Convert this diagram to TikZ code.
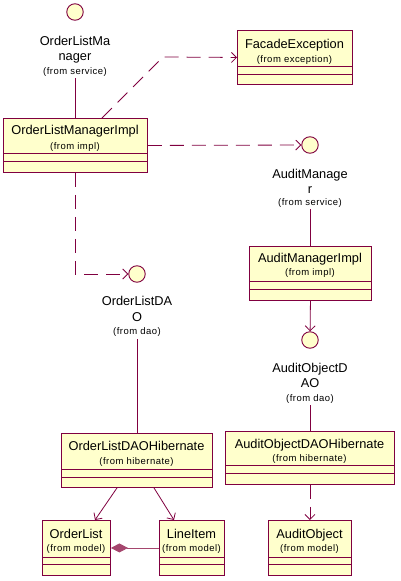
\documentclass[tikz,border=0pt]{standalone}
\usepackage{fontspec}
\setmainfont{Liberation Sans}
\newfontfamily\smallfam[LetterSpace=5]{Liberation Sans}
\usetikzlibrary{arrows.meta}
\definecolor{umlline}{RGB}{128,0,64}
\definecolor{umlfill}{RGB}{255,255,204}
\definecolor{diamondc}{RGB}{165,70,110}
\newcommand\umlcomp[2]{\draw[compline] ([yshift=-#2pt]#1.north west) -- ([yshift=-#2pt]#1.north east);}
\begin{document}
\begin{tikzpicture}[x=1pt,y=-1pt,
  cls/.style={draw=umlline, fill=umlfill, line width=0.9pt, inner sep=0pt, anchor=north west},
  iface/.style={circle, draw=umlline, fill=umlfill, line width=0.9pt, minimum size=16.5pt, inner sep=0pt},
  compline/.style={draw=umlline, line width=0.9pt},
  nm/.style={anchor=base, font=\fontsize{12.8}{15}\selectfont, inner sep=0pt},
  fr/.style={anchor=base, font=\smallfam\fontsize{9.5}{12}\selectfont, inner sep=0pt},
  conn/.style={draw=umlline, line width=0.8pt},
  dep/.style={conn, dash pattern=on 14pt off 8pt, -{Straight Barb[length=5pt,width=10pt]}},
  nav/.style={conn, -{Straight Barb[length=5pt,width=10pt]}},
]
\useasboundingbox[fill=white] (0,0) rectangle (400,581);

% ---------- OrderListManager interface ----------
\node[iface] (olm) at (75,12) {};
\node[nm] (olm-l1) at (75,45) {OrderListMa};
\node[nm] (olm-l2) at (75,60.5) {nager};
\node[fr] (olm-l3) at (75,74.5) {(from service)};
\coordinate (olm-b) at (75.7,78);

% ---------- OrderListManagerImpl ----------
\node[cls, minimum width=144pt, minimum height=54pt] (olmi) at (3,118) {};
\umlcomp{olmi}{35}
\umlcomp{olmi}{43}
\node[nm] (olmi-n) at (75,134) {OrderListManagerImpl};
\node[fr] (olmi-f) at (75,149.5) {(from impl)};

% ---------- FacadeException ----------
\node[cls, minimum width=115pt, minimum height=54pt] (fe) at (237,30) {};
\umlcomp{fe}{36}
\umlcomp{fe}{44}
\node[nm] (fe-n) at (294.5,48) {FacadeException};
\node[fr] (fe-f) at (294.5,62) {(from exception)};

% ---------- AuditManager interface ----------
\node[iface] (am) at (310,145) {};
\node[nm] (am-l1) at (310,178) {AuditManage};
\node[nm] (am-l2) at (310,193) {r};
\node[fr] (am-l3) at (310,205.5) {(from service)};
\coordinate (am-b) at (310,209);

% ---------- AuditManagerImpl ----------
\node[cls, minimum width=122pt, minimum height=54pt] (ami) at (249,246) {};
\umlcomp{ami}{35}
\umlcomp{ami}{43}
\node[nm] (ami-n) at (310,262) {AuditManagerImpl};
\node[fr] (ami-f) at (310,275.5) {(from impl)};

% ---------- AuditObjectDAO interface ----------
\node[iface] (aod) at (310,340) {};
\node[nm] (aod-l1) at (310,372) {AuditObjectD};
\node[nm] (aod-l2) at (310,387) {AO};
\node[fr] (aod-l3) at (310,401) {(from dao)};
\coordinate (aod-b) at (310,405);

% ---------- AuditObjectDAOHibernate ----------
\node[cls, minimum width=169pt, minimum height=53pt] (aodh) at (225,431) {};
\umlcomp{aodh}{34}
\umlcomp{aodh}{42}
\node[nm] (aodh-n) at (309.5,448) {AuditObjectDAOHibernate};
\node[fr] (aodh-f) at (309.5,461.5) {(from hibernate)};

% ---------- AuditObject ----------
\node[cls, minimum width=83pt, minimum height=55pt] (ao) at (268,520) {};
\umlcomp{ao}{37}
\umlcomp{ao}{44}
\node[nm] (ao-n) at (309.5,538) {AuditObject};
\node[fr] (ao-f) at (309.5,551.5) {(from model)};

% ---------- OrderListDAO interface ----------
\node[iface] (old) at (137,274) {};
\node[nm] (old-l1) at (137,305) {OrderListDA};
\node[nm] (old-l2) at (137,321) {O};
\node[fr] (old-l3) at (137,334.5) {(from dao)};
\coordinate (old-b) at (137,339);

% ---------- OrderListDAOHibernate ----------
\node[cls, minimum width=151pt, minimum height=54pt] (oldh) at (61,433) {};
\umlcomp{oldh}{36}
\umlcomp{oldh}{44}
\node[nm] (oldh-n) at (136.5,450) {OrderListDAOHibernate};
\node[fr] (oldh-f) at (136.5,464) {(from hibernate)};

% ---------- OrderList ----------
\node[cls, minimum width=68pt, minimum height=55pt] (ol) at (42,520) {};
\umlcomp{ol}{37}
\umlcomp{ol}{44}
\node[nm] (ol-n) at (76,538) {OrderList};
\node[fr] (ol-f) at (76,551.5) {(from model)};

% ---------- LineItem ----------
\node[cls, minimum width=65pt, minimum height=55pt] (li) at (159,520) {};
\umlcomp{li}{37}
\umlcomp{li}{44}
\node[nm] (li-n) at (191.5,538) {LineItem};
\node[fr] (li-f) at (191.5,551.5) {(from model)};

% ---------- connectors ----------
\draw[conn] (olm-b) -- (olm-b |- olmi.north);
\coordinate (bend1) at (163,57);
\draw[dep] ([xshift=99pt]olmi.north west) -- (bend1) -- (fe.west);
\draw[dep] (olmi.east) -- (am);
\draw[conn] (am-b) -- (am-b |- ami.north);
\draw[nav] (ami.south) -- (aod);
\draw[conn] (aod-b) -- (aod-b |- aodh.north);
\draw[dep] (aodh.south) -- (ao.north);
\draw[dep] (olmi.south) |- (old);
\draw[conn] (old-b) -- (old-b |- oldh.north);
\draw[nav] ([xshift=56pt]oldh.south west) -- ([xshift=53pt]ol.north west);
\draw[nav] ([xshift=93pt]oldh.south west) -- ([xshift=15pt]li.north west);
\draw[draw=diamondc, line width=0.8pt, {Diamond[fill=diamondc, length=17pt, width=9pt]}-] (ol.east) -- (li.west);
\end{tikzpicture}
\end{document}
